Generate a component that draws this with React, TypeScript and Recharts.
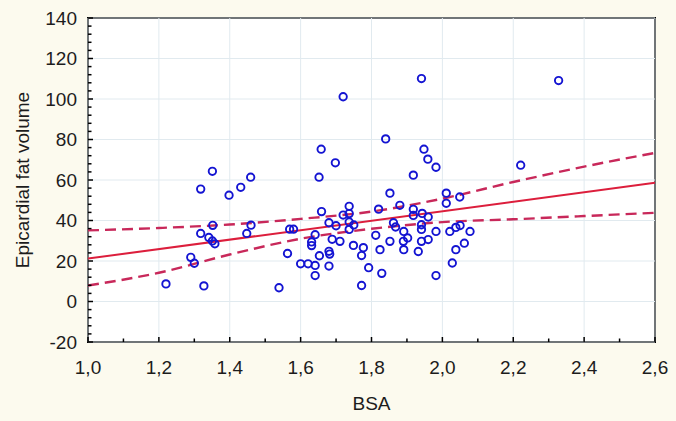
import {
  ComposedChart,
  Scatter,
  Line,
  XAxis,
  YAxis,
  CartesianGrid,
} from 'recharts'

// BSA (x) and epicardial fat volume (y) for each patient
const bsa = [
  1.22, 1.29, 1.3, 1.318, 1.318, 1.327, 1.341, 1.351, 1.352, 1.351, 1.358,
  1.398, 1.431, 1.448, 1.459, 1.46, 1.539, 1.563, 1.569, 1.58, 1.6, 1.621,
  1.631, 1.631, 1.641, 1.641, 1.641, 1.652, 1.653, 1.658, 1.659, 1.68, 1.68,
  1.682, 1.68, 1.689, 1.698, 1.7, 1.711, 1.72, 1.72, 1.737, 1.737, 1.737,
  1.737, 1.75, 1.749, 1.772, 1.777, 1.772, 1.792, 1.812, 1.82, 1.824, 1.829,
  1.84, 1.852, 1.852, 1.862, 1.868, 1.88, 1.891, 1.89, 1.891, 1.902, 1.918,
  1.918, 1.918, 1.932, 1.941, 1.943, 1.941, 1.941, 1.941, 1.948, 1.959, 1.96,
  1.96, 1.982, 1.982, 1.982, 2.011, 2.011, 2.021, 2.028, 2.038, 2.038, 2.049,
  2.05, 2.062, 2.078, 2.221, 2.328,
]
const fatVolume = [
  8.7, 21.8, 18.9, 55.5, 33.6, 7.7, 31.6, 64.3, 37.6, 29.9, 28.5,
  52.5, 56.4, 33.6, 61.4, 37.7, 6.8, 23.7, 35.7, 35.7, 18.6, 18.6,
  29.4, 27.6, 33.0, 17.8, 12.8, 61.4, 22.6, 75.2, 44.4, 38.9, 24.8,
  23.4, 17.5, 30.7, 68.5, 37.4, 29.7, 101.1, 42.7, 47.0, 43.4, 39.3,
  35.6, 37.8, 27.7, 22.7, 26.6, 7.9, 16.7, 32.7, 45.6, 25.6, 13.9,
  80.3, 53.5, 29.7, 38.9, 36.8, 47.5, 34.6, 29.7, 25.6, 31.4, 62.4,
  45.5, 42.5, 24.7, 110.1, 43.5, 37.9, 35.6, 29.7, 75.2, 70.3, 41.7,
  30.6, 66.3, 34.6, 12.8, 53.5, 48.5, 34.6, 19.0, 36.6, 25.6, 51.6,
  37.5, 28.8, 34.6, 67.3, 109.1,
]

// regression line end points
const fitBsa = [1.0, 2.6]
const fitVolume = [21.2, 58.6]

// 95% confidence band, read at each labelled BSA
const bandBsa = [1.0, 1.2, 1.4, 1.6, 1.8, 2.0, 2.2, 2.4, 2.6]
const upperBand = [35.1, 36.3, 38.0, 40.8, 44.4, 50.8, 59.0, 66.6, 73.4]
const lowerBand = [7.9, 14.2, 23.2, 31.0, 35.9, 39.2, 40.6, 42.2, 43.8]

// axis ticks: labelled ones and all tick marks
const xTicks = [1.0, 1.2, 1.4, 1.6, 1.8, 2.0, 2.2, 2.4, 2.6]
const xMinorTicks = [
  1.0, 1.1, 1.2, 1.3, 1.4, 1.5, 1.6, 1.7, 1.8, 1.9, 2.0, 2.1, 2.2, 2.3, 2.4,
  2.5, 2.6,
]
const yTicks = [-20, 0, 20, 40, 60, 80, 100, 120, 140]
const yMinorTicks = [
  -20, -16, -12, -8, -4, 0, 4, 8, 12, 16, 20, 24, 28, 32, 36, 40, 44, 48, 52,
  56, 60, 64, 68, 72, 76, 80, 84, 88, 92, 96, 100, 104, 108, 112, 116, 120,
  124, 128, 132, 136, 140,
]

const points = bsa.map((x, i) => ({ x, y: fatVolume[i] }))
const fit = fitBsa.map((x, i) => ({ x, y: fitVolume[i] }))
const upper = bandBsa.map((x, i) => ({ x, y: upperBand[i] }))
const lower = bandBsa.map((x, i) => ({ x, y: lowerBand[i] }))

const FONT = '"Liberation Sans", Arial, sans-serif'
const TEXT = '#1c1c1c'
const fmtComma = (v: number) => v.toFixed(1).replace('.', ',')
const isMajorX = (v: number) => xTicks.some((t) => Math.abs(t - v) < 1e-6)
const isMajorY = (v: number) => yTicks.includes(v)

const X_MARGIN = 18 // gap between plot bottom and x labels
const Y_MARGIN = 11 // gap between plot left and y labels

const BottomTick = (props: any) => {
  const { x, y, payload } = props
  const v = payload.value
  const major = isMajorX(v)
  const edge = y - X_MARGIN
  return (
    <g>
      <line x1={x} x2={x} y1={edge} y2={edge - (major ? 5 : 3.5)} stroke="#000" strokeWidth={1.5} />
      {major && (
        <text x={x} y={y} dy="0.75em" textAnchor="middle" fill={TEXT} fontSize={19} fontFamily={FONT}>
          {fmtComma(v)}
        </text>
      )}
    </g>
  )
}

const LeftTick = (props: any) => {
  const { x, y, payload } = props
  const v = payload.value
  const major = isMajorY(v)
  const edge = x + Y_MARGIN
  return (
    <g>
      <line x1={edge} x2={edge + (major ? 5 : 3.5)} y1={y} y2={y} stroke="#000" strokeWidth={1.5} />
      {major && (
        <text x={x} y={y} dy="0.36em" textAnchor="end" fill={TEXT} fontSize={19} fontFamily={FONT}>
          {v}
        </text>
      )}
    </g>
  )
}

const TopTick = (props: any) => {
  const { x, y, payload } = props
  const major = isMajorX(payload.value)
  return <line x1={x} x2={x} y1={y} y2={y + (major ? 5 : 3.5)} stroke="#000" strokeWidth={1.5} />
}

const RightTick = (props: any) => {
  const { x, y, payload } = props
  const major = isMajorY(payload.value)
  return <line x1={x} x2={x - (major ? 5 : 3.5)} y1={y} y2={y} stroke="#000" strokeWidth={1.5} />
}

const Ring = (props: any) => {
  const { cx, cy } = props
  if (cx == null || cy == null) return <g />
  return (
    <circle cx={cx} cy={cy} r={3.7} fill="none" stroke="#1414d2" strokeWidth={1.9} />
  )
}

const App = () => {
  return (
    <div
      style={{
        position: 'fixed',
        left: 0,
        top: 0,
        width: 676,
        height: 421,
        background: '#fcfaee',
      }}
    >
      {/* white plot background with its black frame */}
      <div
        style={{
          position: 'absolute',
          left: 87,
          top: 17,
          width: 569,
          height: 326,
          boxSizing: 'border-box',
          border: '2px solid #000',
          background: '#ffffff',
        }}
      />
      <div style={{ position: 'absolute', left: 0, top: 0 }}>
        <ComposedChart
          width={676}
          height={421}
          margin={{ top: 18, right: 21, left: 0, bottom: 0 }}
        >
          <CartesianGrid
            stroke="#e1eaef"
            strokeWidth={1}
            horizontalValues={yTicks}
            verticalValues={xTicks}
          />
          <XAxis
            dataKey="x"
            type="number"
            domain={[1, 2.6]}
            ticks={xMinorTicks}
            interval={0}
            height={79}
            axisLine={false}
            tickLine={false}
            tickSize={0}
            tickMargin={X_MARGIN}
            tick={BottomTick}
            allowDataOverflow
            label={{
              value: 'BSA',
              position: 'insideBottom',
              offset: 11,
              fill: TEXT,
              fontSize: 19,
              fontFamily: FONT,
            }}
          />
          <YAxis
            type="number"
            domain={[-20, 140]}
            ticks={yMinorTicks}
            interval={0}
            width={88}
            axisLine={false}
            tickLine={false}
            tickSize={0}
            tickMargin={Y_MARGIN}
            tick={LeftTick}
            allowDataOverflow
            label={{
              value: 'Epicardial fat volume',
              angle: -90,
              position: 'insideLeft',
              offset: 22,
              fill: TEXT,
              fontSize: 19,
              fontFamily: FONT,
              style: { textAnchor: 'middle' },
            }}
          />
          <XAxis
            xAxisId="top"
            orientation="top"
            type="number"
            domain={[1, 2.6]}
            ticks={xMinorTicks}
            interval={0}
            height={0}
            axisLine={false}
            tickLine={false}
            tickSize={0}
            tickMargin={0}
            tick={TopTick}
            allowDataOverflow
          />
          <YAxis
            yAxisId="right"
            orientation="right"
            type="number"
            domain={[-20, 140]}
            ticks={yMinorTicks}
            interval={0}
            width={0}
            axisLine={false}
            tickLine={false}
            tickSize={0}
            tickMargin={0}
            tick={RightTick}
            allowDataOverflow
          />
          <Line
            data={upper}
            dataKey="y"
            type="monotone"
            stroke="#c8285a"
            strokeWidth={2.4}
            strokeDasharray="11 6"
            dot={false}
            activeDot={false}
            isAnimationActive={false}
          />
          <Line
            data={lower}
            dataKey="y"
            type="monotone"
            stroke="#c8285a"
            strokeWidth={2.4}
            strokeDasharray="11 6"
            dot={false}
            activeDot={false}
            isAnimationActive={false}
          />
          <Line
            data={fit}
            dataKey="y"
            type="linear"
            stroke="#dc1e3c"
            strokeWidth={2}
            dot={false}
            activeDot={false}
            isAnimationActive={false}
          />
          <Scatter
            data={points}
            dataKey="y"
            shape={Ring}
            isAnimationActive={false}
          />
        </ComposedChart>
      </div>
    </div>
  )
}

export default App
